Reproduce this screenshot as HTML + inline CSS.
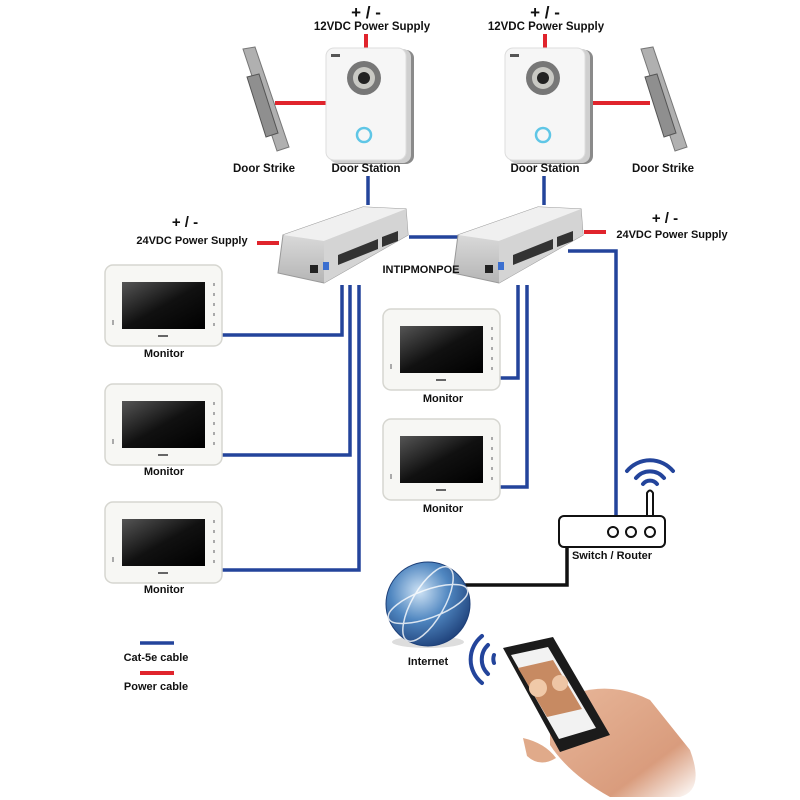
<!DOCTYPE html>
<html><head><meta charset="utf-8"><style>
html,body{margin:0;padding:0;background:#fff}
svg{display:block}
text{font-family:"Liberation Sans",Arial,sans-serif;font-weight:bold;fill:#111}
</style></head><body>
<svg width="800" height="800" viewBox="0 0 800 800" xmlns="http://www.w3.org/2000/svg">
<defs>
<linearGradient id="scr" x1="0" y1="0" x2="1" y2="1"><stop offset="0" stop-color="#555"/><stop offset="0.5" stop-color="#111"/><stop offset="1" stop-color="#000"/></linearGradient>
<radialGradient id="glb" cx="0.4" cy="0.35" r="0.7"><stop offset="0" stop-color="#cfe3f5"/><stop offset="0.5" stop-color="#4f86c0"/><stop offset="1" stop-color="#1d3f78"/></radialGradient>
<linearGradient id="sw" x1="0" y1="0" x2="0" y2="1"><stop offset="0" stop-color="#eee"/><stop offset="1" stop-color="#b5b5b5"/></linearGradient>
<linearGradient id="skin" x1="0" y1="0" x2="1" y2="1"><stop offset="0" stop-color="#e8b79a"/><stop offset="0.7" stop-color="#d99c7d"/><stop offset="1" stop-color="#fff"/></linearGradient>
<g id="mon">
<rect x="0" y="0" width="117" height="81" rx="8" fill="#f7f7f4" stroke="#d6d6d0" stroke-width="1.5"/>
<rect x="17" y="17" width="83" height="47" fill="url(#scr)"/>
<rect x="53" y="70" width="10" height="2" fill="#666"/>
<g fill="#aaa"><rect x="108" y="18" width="2" height="3"/><rect x="108" y="28" width="2" height="3"/><rect x="108" y="38" width="2" height="3"/><rect x="108" y="48" width="2" height="3"/><rect x="108" y="58" width="2" height="3"/><rect x="7" y="55" width="2" height="5"/></g>
</g>
<g id="ds">
<rect x="6" y="2" width="82" height="114" rx="8" fill="#8a8a8a"/>
<rect x="3" y="1" width="82" height="114" rx="8" fill="#cfcfcf"/>
<rect x="0" y="0" width="80" height="112" rx="8" fill="#f6f6f6" stroke="#ddd"/>
<circle cx="38" cy="30" r="17" fill="#777"/><circle cx="38" cy="30" r="11" fill="#c9c9c4"/><circle cx="38" cy="30" r="6" fill="#222"/>
<circle cx="38" cy="87" r="7" fill="none" stroke="#5fc6e6" stroke-width="2.5"/>
<rect x="5" y="6" width="9" height="3" fill="#555"/>
</g>
<g id="strike">
<polygon points="0,0 12,-2 46,98 34,102" fill="#b0b0b0" stroke="#777"/>
<polygon points="4,28 16,25 35,84 23,88" fill="#8f8f8f" stroke="#555"/>
</g>
<g id="poe">
<polygon points="5,30 85,2 128,4 130,30 46,78 0,68" fill="url(#sw)" stroke="#999"/>
<polygon points="5,30 85,2 128,4 46,36" fill="#f0f0f0"/>
<polygon points="46,36 128,4 130,30 46,78" fill="#d4d4d4"/>
<polygon points="60,50 100,34 100,44 60,60" fill="#333"/>
<polygon points="104,32 120,26 120,36 104,42" fill="#333"/>
<rect x="32" y="60" width="8" height="8" fill="#222"/><rect x="45" y="57" width="6" height="8" fill="#3b6fd0"/>
</g>
</defs>

<text x="366" y="18" font-size="17" text-anchor="middle">+ / -</text>
<text x="372" y="30" font-size="11.5" text-anchor="middle">12VDC Power Supply</text>
<text x="545" y="18" font-size="17" text-anchor="middle">+ / -</text>
<text x="546" y="30" font-size="11.5" text-anchor="middle">12VDC Power Supply</text>

<g stroke="#e0242c" stroke-width="4" fill="none">
<line x1="366" y1="34" x2="366" y2="48"/><line x1="545" y1="34" x2="545" y2="48"/>
<line x1="275" y1="103" x2="326" y2="103"/><line x1="592" y1="103" x2="650" y2="103"/>
<line x1="257" y1="243" x2="279" y2="243"/><line x1="584" y1="232" x2="606" y2="232"/>
<line x1="140" y1="673" x2="174" y2="673"/>
</g>

<g stroke="#23449b" stroke-width="3.5" fill="none">
<line x1="368" y1="176" x2="368" y2="205"/><line x1="544" y1="176" x2="544" y2="205"/>
<polyline points="409,237 458,237"/>
<polyline points="342,285 342,335 221,335"/>
<polyline points="350,285 350,455 221,455"/>
<polyline points="359,285 359,570 221,570"/>
<polyline points="518,285 518,378 499,378"/>
<polyline points="527,285 527,487 499,487"/>
<polyline points="568,251 616,251 616,516"/>
<line x1="140" y1="643" x2="174" y2="643"/>
</g>
<polyline points="567,547 567,585 462,585" stroke="#111" stroke-width="3.5" fill="none"/>

<use href="#ds" x="326" y="48"/>
<use href="#ds" x="505" y="48"/>
<use href="#strike" x="243" y="49"/>
<use href="#strike" x="641" y="49"/>
<text x="264" y="172" font-size="11.5" text-anchor="middle">Door Strike</text>
<text x="366" y="172" font-size="11.5" text-anchor="middle">Door Station</text>
<text x="545" y="172" font-size="11.5" text-anchor="middle">Door Station</text>
<text x="663" y="172" font-size="11.5" text-anchor="middle">Door Strike</text>

<use href="#poe" x="278" y="205"/>
<use href="#poe" x="453" y="205"/>
<text x="185" y="227" font-size="15" text-anchor="middle">+ / -</text>
<text x="192" y="244" font-size="11" text-anchor="middle">24VDC Power Supply</text>
<text x="665" y="223" font-size="15" text-anchor="middle">+ / -</text>
<text x="672" y="238" font-size="11" text-anchor="middle">24VDC Power Supply</text>
<text x="421" y="273" font-size="11" text-anchor="middle">INTIPMONPOE</text>

<use href="#mon" x="105" y="265"/><text x="164" y="357" font-size="11" text-anchor="middle">Monitor</text>
<use href="#mon" x="105" y="384"/><text x="164" y="475" font-size="11" text-anchor="middle">Monitor</text>
<use href="#mon" x="105" y="502"/><text x="164" y="593" font-size="11" text-anchor="middle">Monitor</text>
<use href="#mon" x="383" y="309"/><text x="443" y="402" font-size="11" text-anchor="middle">Monitor</text>
<use href="#mon" x="383" y="419"/><text x="443" y="512" font-size="11" text-anchor="middle">Monitor</text>

<path d="M647,516 L647,493 Q650,488 653,493 L653,516" fill="#fff" stroke="#111" stroke-width="2"/>
<g fill="none" stroke="#23449b" stroke-width="4" stroke-linecap="round">
<path d="M643,484 A9,9 0 0 1 657,484"/><path d="M636,478 A18,18 0 0 1 664,478"/><path d="M627,471 A30,30 0 0 1 673,471"/>
</g>
<rect x="559" y="516" width="106" height="31" rx="5" fill="#fff" stroke="#111" stroke-width="2"/>
<g fill="none" stroke="#111" stroke-width="2"><circle cx="613" cy="532" r="5"/><circle cx="631" cy="532" r="5"/><circle cx="650" cy="532" r="5"/></g>
<text x="612" y="559" font-size="11" text-anchor="middle">Switch / Router</text>

<ellipse cx="428" cy="642" rx="36" ry="6" fill="#ddd"/>
<circle cx="428" cy="604" r="42" fill="url(#glb)" stroke="#1d3f78"/>
<g fill="none" stroke="#fff" stroke-width="1.5" opacity="0.8"><ellipse cx="428" cy="604" rx="42" ry="14" transform="rotate(-20 428 604)"/><ellipse cx="428" cy="604" rx="16" ry="42" transform="rotate(30 428 604)"/></g>
<text x="428" y="665" font-size="11" text-anchor="middle">Internet</text>

<g fill="none" stroke="#23449b" stroke-width="4" stroke-linecap="round">
<path d="M494,655 A12,12 0 0 0 494,663"/><path d="M488,645 A20,20 0 0 0 488,674"/><path d="M482,636 A30,30 0 0 0 482,683"/>
</g>

<path d="M550,705 Q600,675 650,700 L690,750 Q705,790 680,797 L610,797 Q570,775 550,745 Z" fill="url(#skin)"/>
<polygon points="503,648 553,637 610,735 560,752" fill="#1b1b1b"/>
<polygon points="511,655 548,647 596,728 559,739" fill="#f2f2f2"/>
<polygon points="518,668 553,660 582,709 547,717" fill="#c78a62"/>
<circle cx="538" cy="688" r="9" fill="#f0c9a8"/><circle cx="560" cy="683" r="8" fill="#eec5a5"/>
<path d="M523,738 Q545,743 556,758 Q540,768 527,756 Z" fill="#e0aa8a"/>
<text x="156" y="661" font-size="11" text-anchor="middle">Cat-5e cable</text>
<text x="156" y="690" font-size="11" text-anchor="middle">Power cable</text>
</svg>
</body></html>
